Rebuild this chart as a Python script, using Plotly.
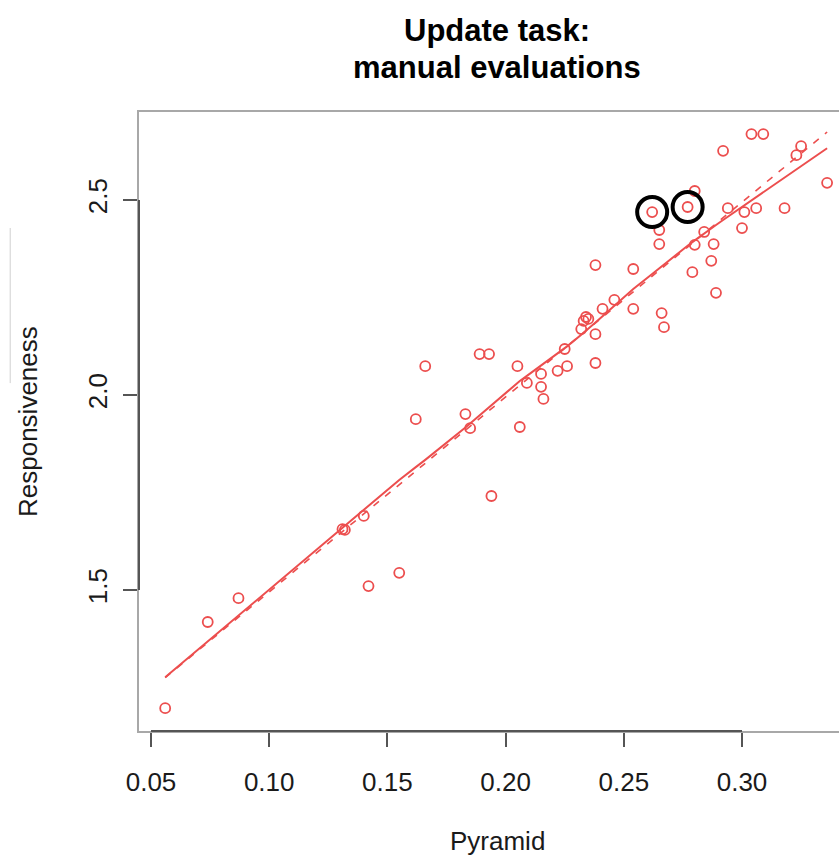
import numpy as np
import plotly.graph_objects as go

# ---- data ----
pyramid = [0.056, 0.074, 0.087, 0.131, 0.132, 0.140, 0.142, 0.155, 0.162, 0.166,
           0.183, 0.185, 0.189, 0.193, 0.194, 0.205, 0.206, 0.209, 0.215, 0.215,
           0.216, 0.222, 0.226, 0.225, 0.232, 0.233, 0.234, 0.235, 0.238, 0.238,
           0.238, 0.241, 0.246, 0.254, 0.254, 0.262, 0.265, 0.265, 0.266, 0.267,
           0.277, 0.280, 0.279, 0.280, 0.284, 0.288, 0.287, 0.289, 0.292, 0.294,
           0.300, 0.301, 0.304, 0.306, 0.309, 0.318, 0.323, 0.325, 0.336]
responsiveness = [1.197, 1.418, 1.479, 1.656, 1.654, 1.690, 1.510, 1.544, 1.938, 2.074,
                  1.951, 1.915, 2.105, 2.105, 1.741, 2.074, 1.918, 2.031, 2.054, 2.021,
                  1.990, 2.062, 2.074, 2.118, 2.169, 2.190, 2.200, 2.195, 2.333, 2.156,
                  2.082, 2.221, 2.244, 2.221, 2.323, 2.469, 2.423, 2.387, 2.210, 2.174,
                  2.482, 2.523, 2.315, 2.385, 2.418, 2.387, 2.344, 2.262, 2.626, 2.479,
                  2.428, 2.469, 2.669, 2.479, 2.669, 2.479, 2.615, 2.638, 2.544]
highlight_idx = [35, 40]

x_ticks = [0.05, 0.10, 0.15, 0.20, 0.25, 0.30]
x_ticktext = ["0.05", "0.10", "0.15", "0.20", "0.25", "0.30"]
y_ticks = [1.5, 2.0, 2.5]
y_ticktext = ["1.5", "2.0", "2.5"]

title_lines = ["Update task:", "manual evaluations"]
x_title = "Pyramid"
y_title = "Responsiveness"


def lowess(x, y, f=2 / 3, iters=3):
    x = np.asarray(x, float)
    y = np.asarray(y, float)
    o = np.argsort(x, kind="stable")
    x, y = x[o], y[o]
    n = len(x)
    ns = max(min(int(f * n + 1e-7), n), 2)
    rng = x[-1] - x[0]
    rw = np.ones(n)
    ys = np.zeros(n)
    for it in range(iters + 1):
        for i in range(n):
            d = np.abs(x - x[i])
            h = np.sort(d)[ns - 1]
            h9, h1 = 0.999 * h, 0.001 * h
            w = np.where(d <= h9, np.where(d > h1, (1 - (d / h) ** 3) ** 3, 1.0), 0.0) * rw
            s = w.sum()
            if s <= 0:
                ys[i] = y[i]
                continue
            w = w / s
            if h > 0:
                a = np.sum(w * x)
                b = x[i] - a
                c = np.sum(w * (x - a) ** 2)
                if np.sqrt(c) > 0.001 * rng:
                    b = b / c
                    w = w * (b * (x - a) + 1.0)
            ys[i] = np.sum(w * y)
        if it == iters:
            break
        res = np.abs(y - ys)
        cmad = 6 * np.median(res)
        if cmad < 1e-7 * np.mean(np.abs(y)):
            break
        c9, c1 = 0.999 * cmad, 0.001 * cmad
        rw = np.where(res <= c1, 1.0, np.where(res <= c9, (1 - (res / cmad) ** 2) ** 2, 0.0))
    return x, ys


px_ = np.array(pyramid)
ry_ = np.array(responsiveness)
lx, ly = lowess(px_, ry_)
slope, intercept = np.polyfit(px_, ry_, 1)
fx = np.array([px_.min(), px_.max()])
fy = intercept + slope * fx

RED = "rgb(236,78,78)"

fig = go.Figure()
fig.add_trace(go.Scatter(x=fx, y=fy, mode="lines",
                         line=dict(color=RED, width=1.6, dash="7px,8px"),
                         showlegend=False, hoverinfo="skip"))
fig.add_trace(go.Scatter(x=lx, y=ly, mode="lines",
                         line=dict(color=RED, width=2),
                         showlegend=False, hoverinfo="skip"))
fig.add_trace(go.Scatter(x=pyramid, y=responsiveness, mode="markers",
                         marker=dict(symbol="circle-open", size=10, color=RED,
                                     line=dict(width=1.8, color=RED)),
                         showlegend=False))
fig.add_trace(go.Scatter(x=[pyramid[i] for i in highlight_idx],
                         y=[responsiveness[i] for i in highlight_idx],
                         mode="markers",
                         marker=dict(symbol="circle-open", size=30, color="black",
                                     line=dict(width=4, color="black")),
                         showlegend=False))

BOX = "#a8a8a8"
AX = "#555555"
fig.update_layout(
    width=839, height=857,
    margin=dict(l=139, r=0, t=112, b=126),
    paper_bgcolor="white", plot_bgcolor="white",
    font=dict(family="Liberation Sans, Arial, sans-serif", size=26, color="#1a1a1a"),
    xaxis=dict(range=[0.04492, 0.34103], showgrid=False, zeroline=False,
               showline=True, mirror=True, linecolor=BOX, linewidth=2,
               ticks="outside", ticklen=14, tickwidth=1.5, tickcolor=AX,
               tickvals=x_ticks, ticktext=x_ticktext, ticklabelstandoff=13),
    yaxis=dict(range=[1.1385, 2.7256], showgrid=False, zeroline=False,
               showline=True, mirror=False, linecolor=BOX, linewidth=2,
               ticks="outside", ticklen=14, tickwidth=1.5, tickcolor=AX,
               tickvals=y_ticks, ticktext=y_ticktext, tickangle=-90,
               ticklabelstandoff=6),
    shapes=[
        dict(type="line", xref="paper", yref="y", x0=0, x1=0, y0=y_ticks[0], y1=y_ticks[-1],
             line=dict(color=AX, width=2)),
        dict(type="line", xref="x", yref="paper", x0=x_ticks[0], x1=x_ticks[-1], y0=0, y1=0,
             line=dict(color=AX, width=2)),
        dict(type="line", xref="paper", yref="paper", x0=-0.184, x1=-0.184,
             y0=0.562, y1=0.8126, line=dict(color="#d0d0d0", width=1)),
    ],
    annotations=[
        dict(text="<b>" + title_lines[0] + "</b>", xref="paper", yref="paper",
             x=(497 - 139) / 700, y=(731 - 31) / 619, xanchor="center", yanchor="middle",
             showarrow=False, font=dict(size=31, color="black")),
        dict(text="<b>" + title_lines[1] + "</b>", xref="paper", yref="paper",
             x=(497 - 139) / 700, y=(731 - 67) / 619, xanchor="center", yanchor="middle",
             showarrow=False, font=dict(size=31, color="black")),
        dict(text=x_title, xref="paper", yref="paper", x=(497 - 139) / 700,
             y=(731 - 841) / 619, xanchor="center", yanchor="middle",
             showarrow=False, font=dict(size=26)),
        dict(text=y_title, xref="paper", yref="paper", x=(28 - 139) / 700,
             y=(731 - 422) / 619, xanchor="center", yanchor="middle",
             textangle=-90, showarrow=False, font=dict(size=26)),
    ],
)

fig.write_html("out.html")
